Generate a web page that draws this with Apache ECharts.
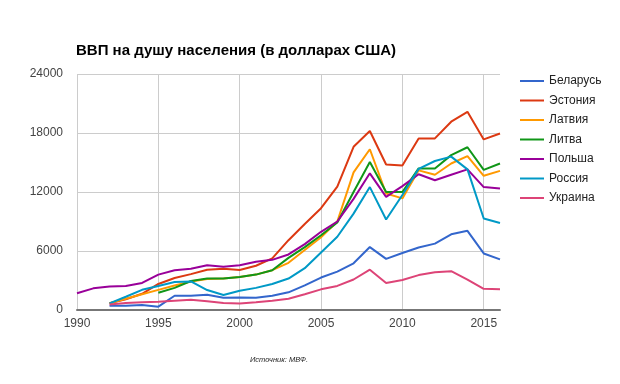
<!DOCTYPE html>
<html>
<head>
<meta charset="utf-8">
<script src="https://cdn.jsdelivr.net/npm/echarts@6/dist/echarts.min.js"></script>
<style>html,body{margin:0;padding:0;background:#fff;}#c{width:620px;height:384px;}</style>
</head>
<body>
<div id="c"></div>
<script>
const years = [1990,1991,1992,1993,1994,1995,1996,1997,1998,1999,2000,2001,2002,2003,2004,2005,2006,2007,2008,2009,2010,2011,2012,2013,2014,2015,2016];
const seriesNames = ["Беларусь","Эстония","Латвия","Литва","Польша","Россия","Украина"];
const belarus = [null,null,440,440,500,340,1450,1450,1550,1250,1270,1250,1450,1800,2500,3300,3900,4750,6400,5200,5800,6350,6750,7700,8050,5750,5150];
const estonia = [null,null,680,1100,1650,2650,3250,3650,4100,4200,4070,4500,5250,7100,8750,10350,12550,16600,18200,14800,14700,17450,17450,19150,20150,17350,17950];
const latvia = [null,null,680,1150,1600,2050,2500,2900,3150,3200,3350,3600,4050,4800,6100,7400,9000,14000,16350,11850,11350,14200,13750,14900,15650,13650,14150];
const lithuania = [null,null,null,null,null,1750,2250,2950,3200,3200,3350,3600,4050,5300,6400,7600,8900,12000,15050,12000,12000,14400,14400,15750,16550,14250,14900];
const poland = [1700,2200,2400,2450,2750,3600,4050,4200,4550,4400,4550,4900,5100,5650,6700,7950,9000,11300,13900,11500,12600,13800,13200,13750,14300,12500,12350];
const russia = [null,null,680,1350,2050,2450,2850,2900,2030,1530,1950,2250,2650,3200,4250,5850,7450,9800,12500,9200,11700,14350,15150,15600,14300,9300,8850];
const ukraine = [null,null,560,700,800,850,950,1050,900,700,660,780,930,1150,1600,2100,2450,3100,4100,2750,3050,3550,3850,3950,3100,2150,2100];
const yTicks = [0,6000,12000,18000,24000];
const xTicks = [1990,1995,2000,2005,2010,2015];
const title = "ВВП на душу населения (в долларах США)";
const source = "Источник: МВФ.";

const allValues = [belarus, estonia, latvia, lithuania, poland, russia, ukraine];
const colors = ['#3366cc','#dc3912','#ff9900','#109618','#990099','#0099c6','#dd4477'];
const FONT = '"Liberation Sans", Arial, sans-serif';

function pairs(vals){
  const out = [];
  vals.forEach((v,i)=>{ if(v!==null) out.push([years[i], v]); });
  return out;
}

const chart = echarts.init(document.getElementById('c'));
chart.setOption({
  animation: false,
  color: colors,
  title: [
    {text: title, left: 71, top: 38, textStyle:{fontFamily: FONT, fontSize: 15, fontWeight: 'bold', color: '#000'}},
    {text: source, left: 245, top: 351, textStyle:{fontFamily: FONT, fontSize: 7.5, fontStyle: 'italic', fontWeight: 'normal', color: '#222'}}
  ],
  legend: {
    orient: 'vertical', left: 515, top: 69,
    icon: 'rect', itemWidth: 24, itemHeight: 2, itemGap: 5.5,
    textStyle: {fontFamily: FONT, fontSize: 12, color: '#222', lineHeight: 14},
    data: seriesNames
  },
  grid: {left: 77, right: 120, top: 74, bottom: 74},
  xAxis: {
    type: 'value', min: xTicks[0], max: 2016, interval: 5,
    axisLine: {show: true, lineStyle: {color: '#777', width: 2}},
    axisTick: {show: false},
    axisLabel: {fontFamily: FONT, fontSize: 12, color: '#444', margin: 8, showMaxLabel: false,
      formatter: v => xTicks.includes(v) ? String(v) : ''},
    splitLine: {show: true, showMaxLine: false, lineStyle: {color: '#ccc', width: 1}}
  },
  yAxis: {
    type: 'value', min: yTicks[0], max: yTicks[yTicks.length-1], interval: 6000,
    axisLine: {show: false}, axisTick: {show: false},
    axisLabel: {fontFamily: FONT, fontSize: 12, color: '#444', margin: 14,
      formatter: v => yTicks.includes(v) ? String(v) : ''},
    splitLine: {show: true, lineStyle: {color: '#ccc', width: 1}}
  },
  series: seriesNames.map((n,i)=>({
    name: n, type: 'line', data: pairs(allValues[i]),
    symbol: 'none', showSymbol: false,
    lineStyle: {width: 2, color: colors[i]}, itemStyle: {color: colors[i]}
  }))
});
</script>
</body>
</html>
